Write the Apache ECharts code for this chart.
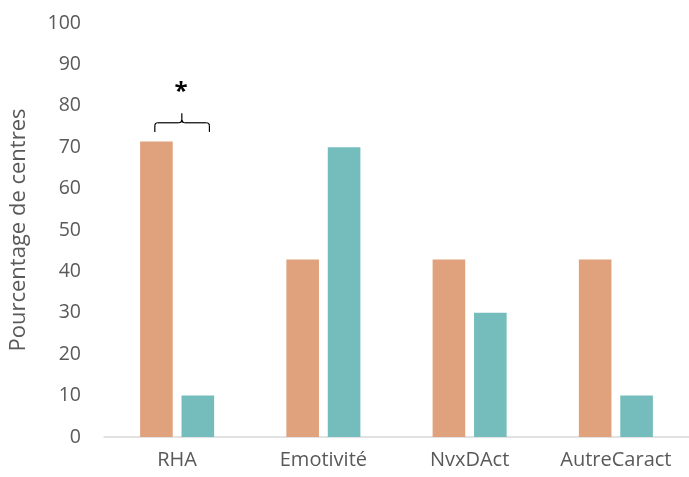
<!DOCTYPE html>
<html><head><meta charset="utf-8">
<script src="https://cdn.jsdelivr.net/npm/echarts@6/dist/echarts.min.js"></script>
<style>html,body{margin:0;padding:0;background:#fff}#c{width:689px;height:477px}</style>
</head><body><div id="c"></div>
<script>
var categories = ['RHA', 'Emotivité', 'NvxDAct', 'AutreCaract'];
var seriesA = [71.4, 42.9, 42.9, 42.9];
var seriesB = [10, 70, 30, 10];
var yTicks = {min: 0, max: 100, interval: 10};

var chart = echarts.init(document.getElementById('c'));
var font = 'Open Sans';
chart.setOption({
  animation: false,
  grid: {left: 103, right: -14, top: 23, bottom: 40},
  xAxis: {
    type: 'category', data: categories,
    axisLine: {lineStyle: {color: '#D9D9D9', width: 1.5}},
    axisTick: {show: false},
    axisLabel: {color: '#595959', fontSize: 20, fontFamily: font, margin: 13}
  },
  yAxis: {
    type: 'value', min: yTicks.min, max: yTicks.max, interval: yTicks.interval,
    name: 'Pourcentage de centres', nameLocation: 'middle', nameGap: 74,
    nameTextStyle: {color: '#595959', fontSize: 22, fontFamily: font},
    axisLine: {show: false}, axisTick: {show: false}, splitLine: {show: false},
    axisLabel: {color: '#595959', fontSize: 19.5, fontFamily: font, margin: 23}
  },
  series: [
    {type: 'bar', data: seriesA, barWidth: '22.3%', barGap: '27%', itemStyle: {color: '#E0A27C'}},
    {type: 'bar', data: seriesB, barWidth: '22.3%', barGap: '27%', itemStyle: {color: '#74BDBC'}}
  ]
});

var c0 = chart.convertToPixel({xAxisIndex: 0}, categories[0]);
var yMid = chart.convertToPixel({yAxisIndex: 0}, 75.9);
var yTop = chart.convertToPixel({yAxisIndex: 0}, 78.2);
var yEnd = chart.convertToPixel({yAxisIndex: 0}, 73.7);
var yStar = chart.convertToPixel({yAxisIndex: 0}, 84.1);
var xl = c0 - 22.3, xr = c0 + 32.3, xm = c0 + 4.7, r = 3;
var st = {stroke: '#000', lineWidth: 1.2, fill: null};
function ln(x1, y1, x2, y2) { return {type: 'line', shape: {x1: x1, y1: y1, x2: x2, y2: y2}, style: st}; }
function cv(x1, y1, cx, cy, x2, y2) { return {type: 'bezierCurve', shape: {x1: x1, y1: y1, cpx1: cx, cpy1: cy, x2: x2, y2: y2}, style: st}; }
chart.setOption({
  graphic: [
    ln(xl, yEnd, xl, yMid + r),
    cv(xl, yMid + r, xl, yMid, xl + r, yMid),
    ln(xl + r, yMid, xm - r, yMid),
    cv(xm - r, yMid, xm, yMid, xm, yMid - r),
    cv(xm, yMid - r, xm, yMid, xm + r, yMid),
    ln(xm, yMid - r, xm, yTop),
    ln(xm + r, yMid, xr - r, yMid),
    cv(xr - r, yMid, xr, yMid, xr, yMid + r),
    ln(xr, yMid + r, xr, yEnd),
    {type: 'text', x: xm - 0.7, y: yStar + 3, style: {text: '*', fontSize: 24, fontWeight: 'bold', fontFamily: font, fill: '#000', align: 'center', verticalAlign: 'middle'}}
  ]
});
</script></body></html>
